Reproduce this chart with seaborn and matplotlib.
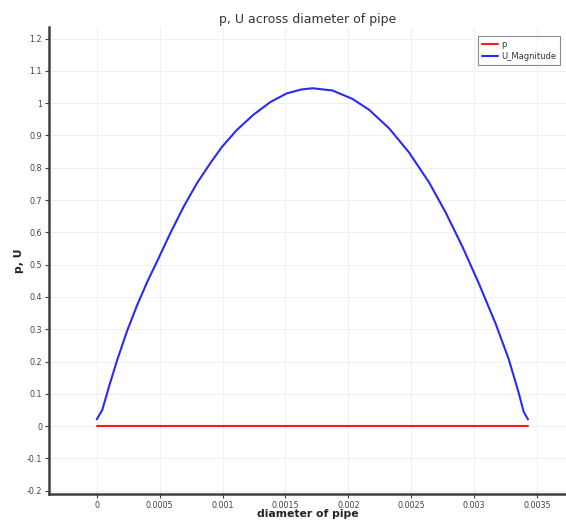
import matplotlib
matplotlib.use("Agg")
import matplotlib.pyplot as plt
import seaborn as sns
import pandas as pd

# Data
x_pos = [0.0, 0.0000048, 0.0000444, 0.0000975, 0.000163, 0.000242, 0.000322,
         0.000401, 0.00048, 0.000586, 0.000692, 0.000797, 0.000903, 0.000995,
         0.001114, 0.001246, 0.001379, 0.00151, 0.001624, 0.001716, 0.001875,
         0.002033, 0.002166, 0.002324, 0.002483, 0.002641, 0.002773, 0.002905,
         0.003037, 0.00317, 0.003275, 0.003354, 0.003394, 0.003428]
u_mag = [0.021, 0.024, 0.050, 0.122, 0.205, 0.295, 0.375,
         0.446, 0.510, 0.598, 0.680, 0.752, 0.814, 0.864,
         0.917, 0.964, 1.003, 1.030, 1.042, 1.046, 1.039,
         1.013, 0.979, 0.922, 0.847, 0.755, 0.662, 0.557,
         0.442, 0.318, 0.207, 0.103, 0.044, 0.021]
p_x = [0.0, 0.00343]
p_vals = [0.0, 0.0]
series_names = ["p", "U_Magnitude"]
x_ticks = [0, 0.0005, 0.001, 0.0015, 0.002, 0.0025, 0.003, 0.0035]
x_tick_labels = ["0", "0.0005", "0.001", "0.0015", "0.002", "0.0025", "0.003", "0.0035"]
y_ticks = [-0.2, -0.1, 0, 0.1, 0.2, 0.3, 0.4, 0.5, 0.6, 0.7, 0.8, 0.9, 1, 1.1, 1.2]
y_tick_labels = ["-0.2", "-0.1", "0", "0.1", "0.2", "0.3", "0.4", "0.5", "0.6",
                 "0.7", "0.8", "0.9", "1", "1.1", "1.2"]

df = pd.DataFrame({
    "x": p_x + x_pos,
    "value": p_vals + u_mag,
    "series": [series_names[0]] * len(p_x) + [series_names[1]] * len(x_pos),
})

sns.set_theme(style="white")
plt.rcParams["font.family"] = ["DejaVu Sans"]

fig = plt.figure(figsize=(5.66, 5.23), dpi=100)
ax = fig.add_axes([0.0866, 0.0555, 0.9134, 0.8925])

sns.lineplot(data=df, x="x", y="value", hue="series",
             palette={"p": "#ff1a1a", "U_Magnitude": "#2a2af5"},
             linewidth=1.5, ax=ax, sort=False, estimator=None)

ax.set_xlim(-0.000379, 0.00373)
ax.set_ylim(-0.21, 1.235)
ax.set_xticks(x_ticks)
ax.set_xticklabels(x_tick_labels)
ax.set_yticks(y_ticks)
ax.set_yticklabels(y_tick_labels)
ax.grid(True, color="#f0f0f0", linewidth=0.8)
ax.set_axisbelow(True)

for s in ["top", "right"]:
    ax.spines[s].set_visible(False)
for s in ["left", "bottom"]:
    ax.spines[s].set_color("#404040")
    ax.spines[s].set_linewidth(1.8)

ax.tick_params(axis="both", which="major", labelsize=5.8, labelcolor="#444444",
               length=3, width=0.8, color="#404040", direction="out",
               bottom=True, left=True, pad=2)

ax.set_title("p, U across diameter of pipe", fontsize=9, color="#333333", pad=3)
ax.set_xlabel("diameter of pipe", fontsize=7.8, fontweight="bold", color="#222222")
ax.set_ylabel("p, U", fontsize=7.8, fontweight="bold", color="#222222")
ax.xaxis.set_label_coords(0.5, -0.033)
ax.yaxis.set_label_coords(-0.048, 0.5)

leg = ax.legend(loc="upper right", fontsize=6, frameon=True, fancybox=False,
                handlelength=2.0, borderpad=0.5, labelspacing=0.35,
                bbox_to_anchor=(0.997, 0.99), handletextpad=0.3)
leg.get_frame().set_edgecolor("#707070")
leg.get_frame().set_linewidth(0.8)
for t in leg.get_texts():
    t.set_color("#333333")

fig.savefig("out.png", dpi=100)
